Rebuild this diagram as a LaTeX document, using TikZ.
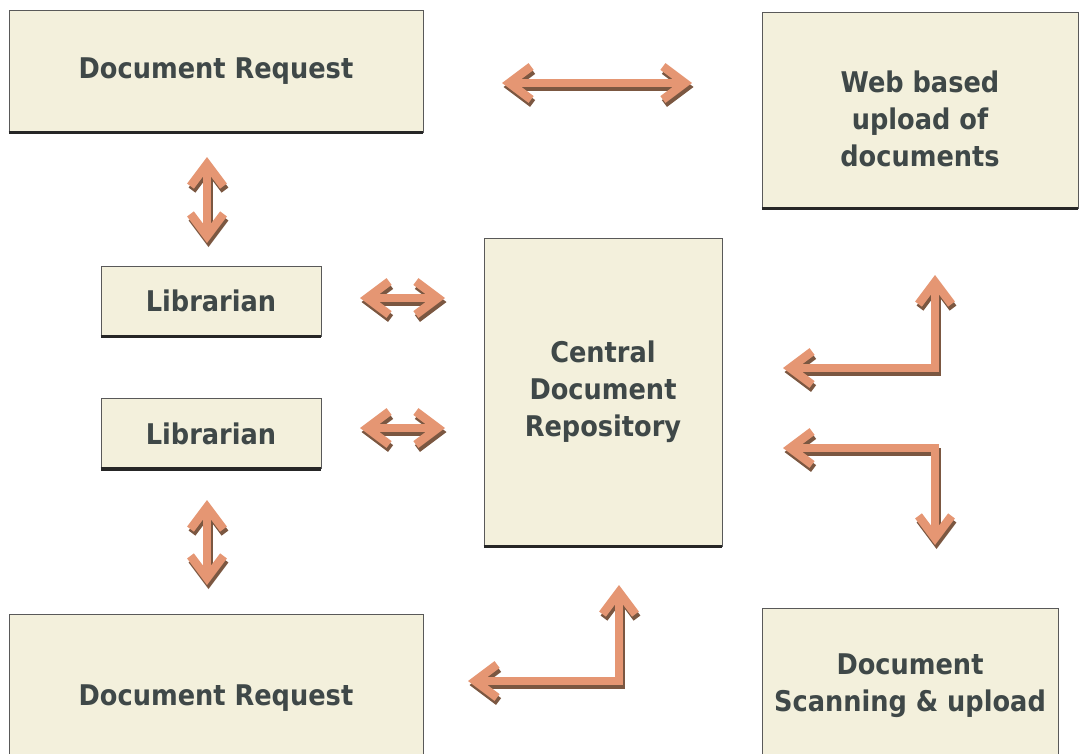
\documentclass[tikz,border=0pt]{standalone}
\usepackage{fontspec}
\setmainfont{DejaVu Sans Condensed}
\usetikzlibrary{positioning, arrows.meta}
\definecolor{boxfill}{HTML}{F3F0DC}
\definecolor{boxtext}{HTML}{3F4848}
\definecolor{arrowfill}{HTML}{E59673}
\definecolor{arrowshade}{HTML}{7B5741}

\tikzset{
  block/.style={draw=gray!70!black, line width=0.8pt, fill=boxfill, text=boxtext,
    font=\bfseries\fontsize{28.5}{37}\selectfont, align=center, inner sep=0pt},
  base/.style={line width=3.5pt, draw=black!85},
  link/.style={line width=8.5pt, draw=arrowfill, line join=miter,
    {Straight Barb[length=22pt,width=33pt]}-{Straight Barb[length=22pt,width=33pt]}}
}
\newcommand{\fatlink}[1]{%
  \draw[link, draw=arrowshade, transform canvas={shift={(1.5pt,-4pt)}}] #1;
  \draw[link] #1;}

\begin{document}
\begin{tikzpicture}[x=1pt, y=-1pt]
    \useasboundingbox (0,0) rectangle (1079,753);
    % boxes
    \node[block, minimum width=414pt, minimum height=122pt] (req1) at (216,71) {Document Request};
    \node[block, minimum width=316pt, minimum height=196pt] (web) at (920,110) {\rule{0pt}{40pt}Web based\\upload of\\documents};
    \node[block, minimum width=220pt, minimum height=70pt] (lib1) at (211,301) {Librarian};
    \node[block, minimum width=220pt, minimum height=70pt, below=62pt of lib1] (lib2) {Librarian};
    \node[block, minimum width=238pt, minimum height=308pt] (repo) at (603,392) {Central\\Document\\Repository};
    \node[block, minimum width=414pt, minimum height=168pt] (req2) at (216,698) {Document Request};
    \node[block, minimum width=296pt, minimum height=156pt] (scan) at (910,686) {Document\\Scanning \& upload};
    \foreach \n in {req1,web,lib1,lib2,repo}
      \draw[base] (\n.south west) -- (\n.south east);

    % arrow ends
    \coordinate (t1) at (502,83);   \coordinate (t2) at (692,83);
    \coordinate (v1) at (207,157);  \coordinate (v2) at (207,243);
    \coordinate (v3) at (207,500);  \coordinate (v4) at (207,585);
    \coordinate (h1) at (360,298);  \coordinate (h2) at (445,298);
    \coordinate (h3) at (360,428);  \coordinate (h4) at (445,428);
    \coordinate (u1) at (783,368);  \coordinate (u2) at (935,275);
    \coordinate (d1) at (783,448);  \coordinate (d2) at (935,545);
    \coordinate (b1) at (468,681);  \coordinate (b2) at (619,585);

    % arrows
    \fatlink{(t1) -- (t2)}
    \fatlink{(v1) -- (v2)}
    \fatlink{(v3) -- (v4)}
    \fatlink{(h1) -- (h2)}
    \fatlink{(h3) -- (h4)}
    \fatlink{(u1) -| (u2)}
    \fatlink{(d1) -| (d2)}
    \fatlink{(b1) -| (b2)}
  \end{tikzpicture}
\end{document}
